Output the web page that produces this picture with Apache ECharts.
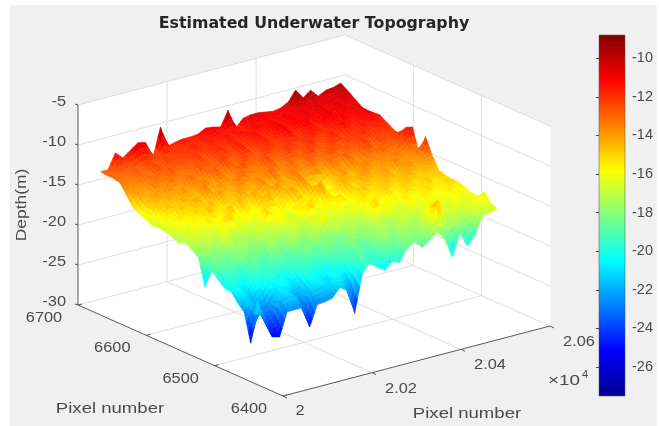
<!DOCTYPE html>
<html><head><meta charset="utf-8">
<style>html,body{margin:0;padding:0;background:#fff;overflow:hidden}#c{width:659px;height:426px;filter:blur(0.7px)}</style>
<script src="https://cdn.jsdelivr.net/npm/echarts@6/dist/echarts.min.js"></script>
</head><body><div id="c"></div>
<script>
// Depth (m). Rows run from the front (y = 6449.5) to the back (y = 6679), columns from x = 2.0018 to 2.0558 (x10^4)
const row00=[-20.1,-22.6,-25.25,-25.5,-22.6,-22.6,-22.6,-25.25,-22.7,-22.6,-22.4,-21.3,-21.9,-25,-20.4,-19.2,-20,-20.6,-19.8,-20.1,-18.6,-18.1,-19,-18.4,-17.5,-18.8,-21.2,-18.5,-20.3,-19.3,-17,-16.9,-16.6];
const row01=[-25.9,-21.8,-24,-24.2,-21.6,-21.2,-21.5,-23.5,-21.4,-21.2,-21,-20.8,-20.5,-22.5,-19.8,-19.4,-19.6,-19.8,-19.2,-19.3,-18.2,-18,-18.3,-17.8,-16.4,-14.2,-16.6,-17.2,-17.6,-17.2,-16.6,-16.4,-16.25];
const row02=[-22.4,-21.4,-22.6,-23.1,-21.9,-20.6,-21.3,-22.4,-21.6,-20.2,-20.7,-21.4,-19.6,-20.9,-19.9,-18.7,-19.2,-20,-18.4,-17.9,-18.9,-17.3,-18.2,-17.7,-16.6,-15,-17,-17.5,-16.4,-17.2,-16,-16.5,-15.25];
const row03=[-21.6,-20.8,-22,-21.3,-20.1,-21.1,-19.7,-20.9,-21.2,-19.2,-20.4,-19.9,-20.8,-19,-18.6,-19.8,-18,-19.2,-18.7,-16.9,-18,-17.9,-16.6,-17.3,-17.6,-16.1,-17.2,-16.2,-16.9,-15.7,-16.7,-16.1,-16.1];
const row04=[-20.6,-20.3,-21.2,-19.6,-20.6,-19,-20.4,-20.9,-19.1,-20.2,-18.6,-19.9,-19.2,-18.2,-19.6,-18.5,-17.7,-19,-17.5,-18.1,-16.8,-17.8,-17.6,-16.2,-17,-16.8,-15.7,-16.9,-15.9,-16.6,-15.6,-16.3,-16];
const row05=[-20.5,-19.4,-20.7,-20.2,-18.8,-20.1,-19.6,-18.4,-19.9,-18.8,-19.6,-17.6,-19.2,-18.7,-17.4,-18.8,-18.4,-16.8,-18.1,-17.5,-16.4,-17.2,-15.9,-17,-16.6,-15.6,-16.7,-15.2,-16.4,-15.9,-15.3,-16.1,-15.7];
const row06=[-19.8,-20.2,-18.7,-19.9,-19.3,-17.9,-19.6,-19,-18.2,-19.3,-17.2,-18.7,-18.1,-17,-18.6,-17.8,-16.6,-17.9,-16.9,-17.6,-15.8,-14.7,-16.6,-15.4,-16.8,-15.2,-16.2,-15.7,-14.9,-16,-15.6,-15,-15.4];
const row07=[-19,-18.3,-19.4,-18.4,-17.6,-19.1,-18,-19,-17,-18.5,-17.9,-16.8,-18.2,-17.4,-16.5,-15.2,-17.8,-16.2,-17.3,-15.7,-16.8,-15.9,-15.2,-16.4,-15.4,-16,-14.8,-15.8,-15.2,-14.7,-15.6,-15.1,-15.4];
const row08=[-21.4,-18.9,-17.7,-18.8,-18.1,-16.9,-18.5,-17.2,-18.3,-16.6,-17.7,-17.1,-15.9,-17.6,-16.4,-17.2,-16,-16.9,-15.4,-16.7,-15.9,-14.9,-16.2,-15.3,-14.6,-15.9,-15.1,-14.4,-15.6,-14.8,-15.2,-14.6,-15.3];
const row09=[-18.15,-17.2,-18.4,-17.4,-16.4,-18,-17,-17.9,-15.9,-17.5,-16.7,-15.4,-17.2,-16.5,-15.6,-14.5,-16.8,-15.2,-16.3,-14.9,-16,-15.4,-14.3,-15.7,-15,-14.2,-15.3,-14.6,-13.9,-15.1,-14.4,-14.6,-15];
const row10=[-17.5,-17.9,-16.4,-17.7,-15.7,-16.8,-17.5,-15.9,-17.4,-16.1,-14.7,-16.5,-15.6,-16.9,-15.2,-16.4,-15,-16.2,-14.7,-15.6,-16.2,-14.6,-15.6,-13.9,-15.2,-14.6,-13.8,-14.9,-14.2,-13.6,-14.5,-13.8,-13.5];
const row11=[-17,-15.9,-17.1,-16.3,-17.2,-15.1,-14.6,-16.9,-15.3,-16.6,-15.6,-14.8,-16.4,-15,-16,-14.3,-15.7,-15,-13.9,-16.3,-15.3,-14,-15.2,-14.4,-13.4,-14.8,-14,-14.7,-13.2,-14.4,-13.6,-13.8,-11.6];
const row12=[-17.4,-16.9,-15.6,-16.6,-14.9,-16.3,-15.9,-14.3,-16.4,-14.9,-16.1,-15.2,-14,-15.8,-15,-14,-15.5,-13.8,-15.2,-14.2,-16.6,-14.6,-13.6,-14.9,-14,-13.2,-14.4,-13.3,-14.1,-13,-13.9,-13.1,-13.9];
const row13=[-17,-15.5,-16.8,-15.1,-16.4,-14.2,-16.1,-15.3,-15.7,-14.2,-15.6,-13.8,-15.3,-14.6,-13.6,-15,-14.4,-13.4,-14.8,-15.4,-16.6,-15,-13.6,-14.3,-13.3,-14.2,-12.9,-13.8,-12.6,-13.7,-12.8,-12,-11.1];
const row14=[-16.7,-16.2,-15,-15.9,-14.6,-15.6,-14.2,-15.5,-14.6,-15.3,-13.7,-15.1,-14.2,-13.4,-14.9,-13.5,-14.6,-13.1,-14.4,-13.6,-13.2,-14.3,-12.9,-13.9,-12.6,-13.8,-12.8,-12.2,-13.4,-12.3,-13,-12.2,-11.5];
const row15=[-16.6,-15.3,-16,-14.4,-15.6,-13.9,-15.3,-14.5,-13.8,-14.9,-14.1,-13.1,-14.7,-13.5,-14.3,-12.7,-14.2,-13.6,-12.9,-13.9,-12.6,-13.7,-13,-12.2,-13.5,-12.3,-13.1,-11.9,-12.9,-12.1,-12.5,-12.1,-12.8];
const row16=[-16.7,-15.7,-14.3,-15.3,-14,-15,-14.6,-13.2,-14.9,-13.5,-14.5,-13.4,-12.7,-14.1,-13.4,-13.7,-12.5,-13.8,-12.7,-13.5,-12.9,-11.9,-13.2,-12.6,-12,-13,-12.1,-12.6,-11.6,-12.5,-11.9,-11.8,-12.4];
const row17=[-16.3,-14.6,-15.3,-13.9,-14.9,-13.5,-14.6,-13.9,-13.3,-14.5,-12.9,-14,-13.4,-12.3,-13.7,-13,-12.2,-13.4,-12.9,-11.9,-13.1,-12.5,-11.7,-12.9,-12.3,-11.5,-12.5,-11.6,-12.2,-11.3,-12,-11.6,-11.9];
const row18=[-15.9,-14.9,-13.7,-14.5,-13.3,-14.4,-13.7,-12.9,-14.1,-13.4,-12.6,-13.8,-12.7,-13.4,-12,-13.2,-12.7,-11.9,-12.9,-12.2,-11.7,-12.7,-12,-11.4,-12.5,-11.8,-12,-11.1,-11.9,-11.5,-11,-11.2,-11.4];
const row19=[-15.5,-13.8,-14.6,-13.2,-14.1,-12.8,-13.9,-13.2,-13.5,-12.4,-13.4,-12.8,-12,-13.1,-12.5,-11.7,-12.8,-12.1,-11.6,-12.5,-11.9,-11.2,-12.3,-11.7,-11.3,-12,-11.2,-11.8,-10.9,-11.4,-10.8,-10.9,-11.5];
const row20=[-14.3,-13.6,-14.1,-13.3,-12.9,-13.6,-12.4,-13.5,-12.7,-12.9,-12.1,-13,-12.4,-11.8,-12.6,-11.5,-12.4,-11.9,-11.4,-12.2,-11.6,-11,-11.9,-11.4,-10.9,-11.7,-11,-10.7,-11.3,-10.7,-11,-10.7,-11.8];
const row21=[-13.1,-13.6,-13.4,-12.8,-13.4,-12.3,-13,-12.6,-12.4,-12.6,-11.9,-12.6,-12,-11.9,-12.2,-11.4,-12.1,-11.6,-11.3,-11.9,-11.3,-11,-11.5,-10.9,-11.3,-10.8,-11.2,-10.6,-11.1,-10.5,-10.9,-10.8,-11.25];
const row22=[-12.9,-13.2,-13.3,-12.7,-13,-12.2,-12.8,-12,-12.6,-12,-12.2,-11.6,-12.1,-11.5,-11.9,-11.4,-11.8,-11.3,-11.6,-11.1,-11.5,-11,-11.4,-10.9,-11.2,-10.7,-11,-10.5,-10.8,-10.5,-10.7,-10.4,-10.7];
const row23=[-12.9,-13,-12.9,-12.6,-12.7,-12.2,-12.5,-12.4,-12.2,-12,-12,-11.7,-11.9,-11.5,-11.7,-11.4,-11.6,-11.8,-11.5,-11.3,-11.3,-11.1,-11.2,-11,-11,-10.8,-10.6,-10.8,-10.5,-10.8,-10.5,-10.4,-10.1];
const row24=[-12.8,-12.8,-10.95,-11.8,-11.1,-10.4,-10.6,-12.7,-9.2,-11.8,-11.55,-11.4,-11.4,-11.3,-10.8,-10.9,-11.15,-9.3,-11.8,-10.8,-10.6,-10.6,-10.75,-10.9,-10.75,-10.25,-9,-10.2,-9.5,-10.5,-10,-9.9,-9.6];
const depthRows=[row00,row01,row02,row03,row04,row05,row06,row07,row08,row09,row10,row11,row12,row13,row14,row15,row16,row17,row18,row19,row20,row21,row22,row23,row24];

const titleText='Estimated Underwater Topography';
const zTicks=[-30,-25,-20,-15,-10,-5];
const yTicks=[6400,6500,6600,6700];
const xTicks=[2,2.02,2.04,2.06];
const xTickLabels=['2','2.02','2.04','2.06'];
const cbarTicks=[-26,-24,-22,-20,-18,-16,-14,-12,-10];
const cLim=[-27.5,-8.8];
const jetStops=[[0,'#00008f'],[0.125,'#0000ff'],[0.375,'#00ffff'],[0.625,'#ffff00'],[0.875,'#ff0000'],[1,'#800000']];

// Data range of the surface on the axes
const xFirst=2.0018,xStep=0.0016875,yFirst=6449.5,yStep=9.5625;

// Fixed oblique view of the 3D box: screen position of the corners
const O={x:283,y:396},EX={x:267,y:-70},EY={x:-205,y:-91},ZP=8;
function project(x,y,z){
  const u=(x-2)/0.06,v=(y-6400)/300;
  return [O.x+EX.x*u+EY.x*v,O.y+EX.y*u+EY.y*v-ZP*(z+30)];
}
function hex(c){return [parseInt(c.slice(1,3),16),parseInt(c.slice(3,5),16),parseInt(c.slice(5,7),16)];}
function jet(z){
  const t=Math.max(0,Math.min(1,(z-cLim[0])/(cLim[1]-cLim[0])));
  for(let k=1;k<jetStops.length;k++){
    if(t<=jetStops[k][0]){
      const a=jetStops[k-1],b=jetStops[k],f=(t-a[0])/(b[0]-a[0]),A=hex(a[1]),B=hex(b[1]);
      return 'rgb('+A.map((q,n)=>Math.round(q+(B[n]-q)*f)).join(',')+')';
    }
  }
  return jetStops[jetStops.length-1][1];
}
const SUB=3;
const cells=[];
for(let j=depthRows.length-2;j>=0;j--){for(let i=depthRows[0].length-2;i>=0;i--){cells.push([i,j]);}}

function renderSurface(params,api){
  const i=api.value(0),j=api.value(1);
  const z00=depthRows[j][i],z10=depthRows[j][i+1],z01=depthRows[j+1][i],z11=depthRows[j+1][i+1];
  const children=[];
  const P=(a,b)=>{
    const z=z00*(1-a)*(1-b)+z10*a*(1-b)+z01*(1-a)*b+z11*a*b;
    return {z,p:api.coord(project(xFirst+xStep*(i+a),yFirst+yStep*(j+b),z))};
  };
  for(let bb=SUB-1;bb>=0;bb--){for(let aa=SUB-1;aa>=0;aa--){
    const q=[P(aa/SUB,bb/SUB),P((aa+1)/SUB,bb/SUB),P((aa+1)/SUB,(bb+1)/SUB),P(aa/SUB,(bb+1)/SUB)];
    const c=jet((q[0].z+q[1].z+q[2].z+q[3].z)/4);
    children.push({type:'polygon',shape:{points:q.map(o=>o.p)},style:{fill:c,stroke:c,lineWidth:0.5}});
  }}
  return {type:'group',children};
}

const INK='#4a4a4a',GRID='#dedede',AX='#5a5a5a';
const FONT='"Liberation Sans",Arial,sans-serif';
function line(api,a,b,color,w){
  const p=api.coord(a),q=api.coord(b);
  return {type:'line',shape:{x1:p[0],y1:p[1],x2:q[0],y2:q[1]},style:{stroke:color,lineWidth:w}};
}
function poly(api,pts,fill){return {type:'polygon',shape:{points:pts.map(p=>api.coord(p))},style:{fill}};}
function label(api,text,at,opt){
  const o=opt||{},p=api.coord(at);
  return {type:'text',x:p[0],y:p[1],rotation:o.rot||0,scaleX:o.sx||1.17,
    style:{text,fill:o.fill||INK,font:(o.size||14)+'px '+FONT,align:o.align||'center',verticalAlign:'middle'}};
}
function renderFrame(params,api){
  const c=[];
  c.push({type:'rect',shape:{x:10,y:5,width:647,height:421},style:{fill:'#f0f0f0'}});
  const x0=xTicks[0],x1=xTicks[3],y0=yTicks[0],y1=yTicks[3],z0=zTicks[0],z1=zTicks[5];
  c.push(poly(api,[project(x0,y1,z0),project(x1,y1,z0),project(x1,y1,z1),project(x0,y1,z1)],'#ffffff'));
  c.push(poly(api,[project(x1,y1,z0),project(x1,y0,z0),project(x1,y0,z1),project(x1,y1,z1)],'#ffffff'));
  c.push(poly(api,[project(x0,y0,z0),project(x1,y0,z0),project(x1,y1,z0),project(x0,y1,z0)],'#ffffff'));
  zTicks.forEach(z=>{
    c.push(line(api,project(x0,y1,z),project(x1,y1,z),GRID,1));
    c.push(line(api,project(x1,y1,z),project(x1,y0,z),GRID,1));
  });
  xTicks.slice(1,3).forEach(x=>{
    c.push(line(api,project(x,y1,z0),project(x,y1,z1),GRID,1));
    c.push(line(api,project(x,y0,z0),project(x,y1,z0),GRID,1));
  });
  yTicks.slice(1,3).forEach(y=>{
    c.push(line(api,project(x1,y,z0),project(x1,y,z1),GRID,1));
    c.push(line(api,project(x0,y,z0),project(x1,y,z0),GRID,1));
  });
  // axis lines
  c.push(line(api,project(x0,y1,z0),project(x0,y1,z1),AX,1));
  c.push(line(api,project(x0,y1,z0),project(x0,y0,z0),AX,1));
  c.push(line(api,project(x0,y0,z0),project(x1,y0,z0),AX,1));
  // ticks and tick labels
  zTicks.forEach(z=>{
    const p=project(x0,y1,z);
    c.push(line(api,p,[p[0]-3,p[1]-1],AX,1));
    c.push(label(api,String(z),[p[0]-12,p[1]-3],{align:'right'}));
  });
  yTicks.forEach(y=>{
    const p=project(x0,y,z0);
    c.push(line(api,p,[p[0]+4,p[1]-1],AX,1));
    c.push(label(api,String(y),[p[0]-34,p[1]+13]));
  });
  xTicks.forEach((x,n)=>{
    const p=project(x,y0,z0);
    c.push(line(api,p,[p[0]+4,p[1]+2],AX,1));
    c.push(label(api,xTickLabels[n],[p[0]+(n?29:17),p[1]+(n?16:15)]));
  });
  c.push(label(api,'\u00d710',[548,381],{align:'left',size:14.5,sx:1.3}));
  c.push(label(api,'4',[582,375],{align:'left',size:10,sx:1.1}));
  c.push(label(api,'Pixel number',[110,409],{size:14.5,sx:1.28}));
  c.push(label(api,'Pixel number',[467,414],{size:14.5,sx:1.28}));
  c.push(label(api,'Depth(m)',[22,205],{rot:Math.PI/2,size:14.5,sx:1.2}));
  return {type:'group',children:c};
}
function renderBar(params,api){
  const a=api.coord([0,cLim[1]]),b=api.coord([1,cLim[0]]);
  const stops=jetStops.map(s=>({offset:1-s[0],color:s[1]})).reverse();
  return {type:'rect',shape:{x:a[0],y:a[1],width:b[0]-a[0],height:b[1]-a[1]},
    style:{fill:new echarts.graphic.LinearGradient(0,0,0,1,stops),stroke:'#555',lineWidth:0.5}};
}
const chart=echarts.init(document.getElementById('c'),null,{renderer:'canvas'});
chart.setOption({
  animation:false,
  backgroundColor:'#ffffff',
  title:{text:titleText,left:309,top:11,textAlign:'center',
    textStyle:{fontFamily:'"DejaVu Sans"',fontWeight:'bold',fontSize:15.8,color:'#262626'}},
  grid:[{left:0,right:0,top:0,bottom:0},{left:599,top:35,width:26,height:361}],
  xAxis:[{type:'value',min:0,max:659,show:false,gridIndex:0},{type:'value',min:0,max:1,show:false,gridIndex:1}],
  yAxis:[{type:'value',min:0,max:426,inverse:true,show:false,gridIndex:0},
    {type:'value',min:cLim[0],max:cLim[1],position:'right',gridIndex:1,z:10,splitLine:{show:false},
     axisLine:{show:false},
     axisTick:{show:true,inside:true,length:3,customValues:cbarTicks,lineStyle:{color:'#444'}},
     axisLabel:{show:true,customValues:cbarTicks,margin:7,color:INK,fontFamily:'"Liberation Sans"',fontSize:14.5}}],
  series:[
    {type:'custom',coordinateSystem:'cartesian2d',xAxisIndex:0,yAxisIndex:0,z:1,silent:true,clip:false,data:[[0,0]],renderItem:renderFrame},
    {type:'custom',coordinateSystem:'cartesian2d',xAxisIndex:0,yAxisIndex:0,z:2,silent:true,clip:false,data:cells,encode:{x:0,y:1},renderItem:renderSurface},
    {type:'custom',coordinateSystem:'cartesian2d',xAxisIndex:1,yAxisIndex:1,z:3,silent:true,clip:false,data:[[0,cLim[0]]],renderItem:renderBar}
  ]
});
</script></body></html>
